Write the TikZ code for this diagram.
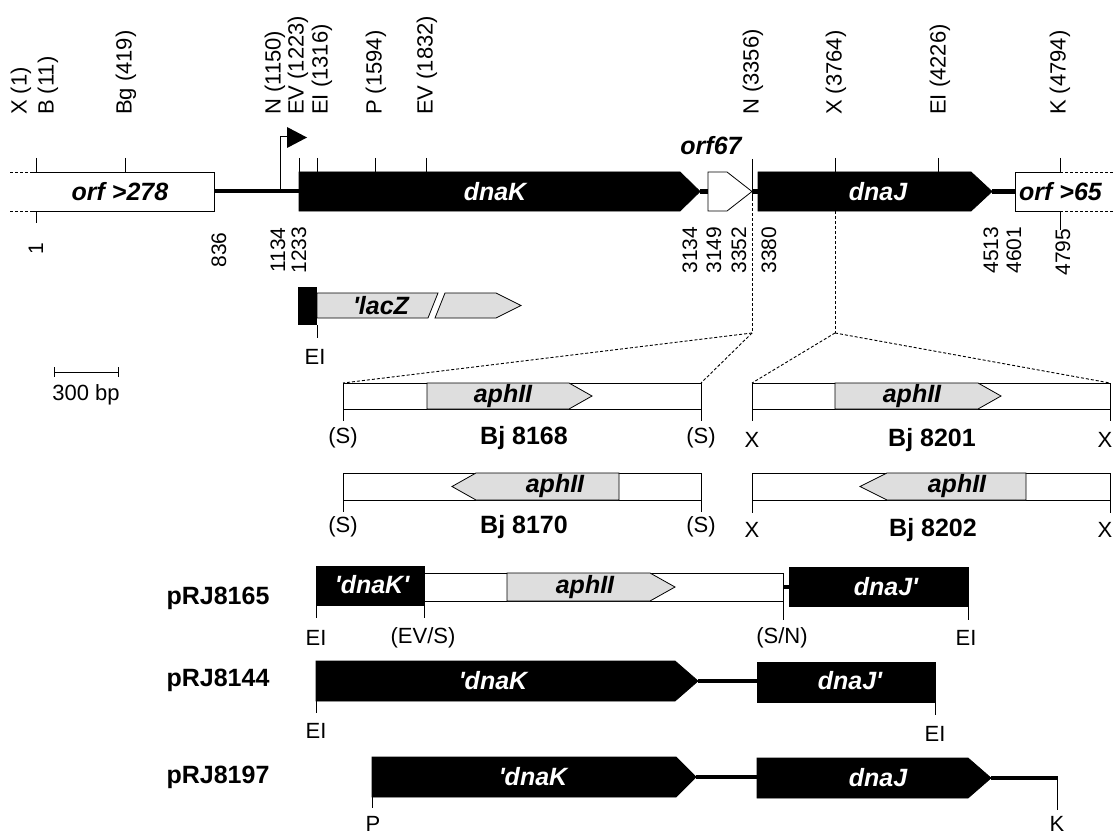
\documentclass[tikz,border=0pt]{standalone}
\usepackage{fontspec}
\setmainfont{Liberation Sans}
\newcommand\fLt{\fontsize{22}{24}\selectfont}
\newcommand\fNum{\fontsize{21}{24}\selectfont}
\newcommand\fBI{\fontsize{25}{28}\selectfont\bfseries\itshape}
\newcommand\fB{\fontsize{25}{28}\selectfont\bfseries}
\newcommand\qq{\textquotesingle}
\begin{document}
\begin{tikzpicture}[x=1pt,y=-1pt,
  bk/.style={fill=black,draw=black,line width=0.8pt},
  wh/.style={fill=white,draw=black,line width=0.8pt},
  gr/.style={fill=black!13,draw=black,line width=0.8pt},
  lnk/.style={line width=4.5pt},
  tk/.style={line width=1pt},
  dsh/.style={line width=0.9pt,dash pattern=on 3pt off 2pt},
  lt/.style={font=\fLt,inner sep=0pt},
  rlab/.style={lt,rotate=90,anchor=west},
  numl/.style={font=\fNum,inner sep=0pt,rotate=90},
  gi/.style={font=\fBI,inner sep=0pt},
  gw/.style={gi,text=white},
  bl/.style={font=\fB,inner sep=0pt}]
\useasboundingbox[fill=white] (0,0) rectangle (1115,837);

% ---------- main map ----------
% orf >278
\draw[line width=0.8pt] (33,172) -- (214,172) -- (214,211) -- (33,211);
\draw[dsh] (10,172) -- (33,172);
\draw[dsh] (10,211) -- (33,211);
\node[gi] (orfA) at (120,192) {orf >278};
\draw[lnk] (214,191) -- (299,191);
% dnaK
\draw[bk] (299,172) -- (680,172) -- (700,191.5) -- (680,211) -- (299,211) -- cycle;
\node[gw] (dnaK) at (495,192) {dnaK};
\draw[lnk] (700,191.5) -- (708,191.5);
% orf67
\draw[wh] (708,172) -- (727,172) -- (752,191.5) -- (727,211) -- (708,211) -- cycle;
\node[gi] (orf67) at (711,146) {orf67};
\draw[lnk] (752,191.5) -- (758,191.5);
% dnaJ
\draw[bk] (758,172) -- (971,172) -- (992,191.5) -- (971,211) -- (758,211) -- cycle;
\node[gw] (dnaJ) at (878,192) {dnaJ};
\draw[lnk] (992,191.5) -- (1015,191.5);
% orf >65
\draw[line width=0.8pt] (1060,172) -- (1015,172) -- (1015,211) -- (1060,211);
\draw[dsh] (1060,172) -- (1118,172);
\draw[dsh] (1060,211) -- (1118,211);
\node[gi,anchor=west] (orfB) at (1019,192) {orf >65};

% promoter
\draw[tk] (280,191) -- (280,137) -- (288,137);
\fill (287,127) -- (307,137.5) -- (287,148) -- cycle;

% ticks above
\foreach \x in {36,125,299,317,375,426,835,938,1060}
  \draw[tk] (\x,158) -- (\x,172);
\draw[tk] (752,159) -- (752,198);
% ticks below
\draw[tk] (36,211) -- (36,223);
\draw[tk] (1060,211) -- (1060,230);

% site labels
\node[rlab] (sX1) at (21,115) {X (1)};
\node[rlab] (sB11) at (48,115) {B (11)};
\node[rlab] (sBg) at (126,115) {Bg (419)};
\node[rlab] (sN1) at (275,115) {N (1150)};
\node[rlab] (sEV1) at (298,115) {EV (1223)};
\node[rlab] (sEI1) at (322,115) {EI (1316)};
\node[rlab] (sP) at (376,115) {P (1594)};
\node[rlab] (sEV2) at (427,115) {EV (1832)};
\node[rlab] (sN2) at (753,115) {N (3356)};
\node[rlab] (sX2) at (836,115) {X (3764)};
\node[rlab] (sEI2) at (940,115) {EI (4226)};
\node[rlab] (sK) at (1060,115) {K (4794)};

% position numbers
\node[numl] (n1) at (36,249) {1};
\node[numl] (n836) at (219,250) {836};
\node[numl] (n1134) at (278,250) {1134};
\node[numl] (n1233) at (299,250) {1233};
\node[numl] (n3134) at (690,250) {3134};
\node[numl] (n3149) at (714,250) {3149};
\node[numl] (n3352) at (739,250) {3352};
\node[numl] (n3380) at (769,250) {3380};
\node[numl] (n4513) at (991,250) {4513};
\node[numl] (n4601) at (1014,250) {4601};
\node[numl] (n4795) at (1063,252) {4795};

% ---------- lacZ fusion ----------
\fill (298,287) rectangle (317,325);
\draw[gr] (317,293) -- (438,293) -- (428,318) -- (317,318) -- cycle;
\draw[gr] (445,293) -- (496,293) -- (521,305.5) -- (496,318) -- (435,318) -- cycle;
\node[gi] (lacZ) at (381,306) {\qq lacZ};
\draw[tk] (317,325) -- (317,338);
\node[lt] (eiL) at (315,357) {EI};

% scale bar
\draw[tk] (54,372) -- (118,372);
\draw[tk] (54,367) -- (54,377);
\draw[tk] (118,367) -- (118,377);
\node[lt] (bar) at (86,395) {300 bp};

% ---------- dashed expansion lines ----------
\coordinate (J1) at (752,333);
\coordinate (J2) at (835,333);
\coordinate (A1) at (343,383);
\coordinate (A2) at (701,383);
\coordinate (B1) at (752,383);
\coordinate (B2) at (1110,383);
\draw[dsh] (752,198) -- (J1);
\draw[dsh] (835,211) -- (J2);
\draw[dsh] (J1) -- (A1);
\draw[dsh] (J1) -- (A2);
\draw[dsh] (J2) -- (B1);
\draw[dsh] (J2) -- (B2);

% ---------- Bj 8168 ----------
\draw[wh] (343,383) rectangle (701,409);
\draw[gr] (427,383) -- (569,383) -- (592,396) -- (569,409) -- (427,409) -- cycle;
\node[gi] (ap1) at (503,396) {aphII};
\draw[tk] (343,409) -- (343,421);
\draw[tk] (701,409) -- (701,421);
\node[lt] (s1a) at (343,438) {(S)};
\node[lt] (s1b) at (701,438) {(S)};
\node[bl] (bj8168) at (524,438) {Bj 8168};

% ---------- Bj 8170 ----------
\draw[wh] (343,473) rectangle (701,500);
\draw[gr] (619,473) -- (476,473) -- (452,486.5) -- (476,500) -- (619,500) -- cycle;
\node[gi] (ap2) at (555,486) {aphII};
\draw[tk] (343,500) -- (343,512);
\draw[tk] (701,500) -- (701,512);
\node[lt] (s2a) at (343,527) {(S)};
\node[lt] (s2b) at (701,527) {(S)};
\node[bl] (bj8170) at (524,527) {Bj 8170};

% ---------- Bj 8201 ----------
\draw[wh] (752,383) rectangle (1110,409);
\draw[gr] (835,383) -- (978,383) -- (1001,396) -- (978,409) -- (835,409) -- cycle;
\node[gi] (ap3) at (912,396) {aphII};
\draw[tk] (752,409) -- (752,421);
\draw[tk] (1110,409) -- (1110,421);
\node[lt] (x3a) at (752,440) {X};
\node[lt] (x3b) at (1105,440) {X};
\node[bl] (bj8201) at (932,440) {Bj 8201};

% ---------- Bj 8202 ----------
\draw[wh] (752,473) rectangle (1110,500);
\draw[gr] (1026,473) -- (887,473) -- (860,486.5) -- (887,500) -- (1026,500) -- cycle;
\node[gi] (ap4) at (957,486) {aphII};
\draw[tk] (752,500) -- (752,513);
\draw[tk] (1110,500) -- (1110,513);
\node[lt] (x4a) at (752,530) {X};
\node[lt] (x4b) at (1105,530) {X};
\node[bl] (bj8202) at (933,530) {Bj 8202};

% ---------- pRJ8165 ----------
\node[bl] (p8165) at (218,598) {pRJ8165};
\draw[bk] (316,566) rectangle (424,605);
\node[gw] (dk1) at (372,585) {\qq dnaK\qq};
\draw[wh] (424,573) rectangle (783,601);
\draw[gr] (507,573) -- (650,573) -- (675,587) -- (650,601) -- (507,601) -- cycle;
\node[gi] (ap5) at (585,587) {aphII};
\draw[lnk] (783,587) -- (789,587);
\draw[bk] (789,567) rectangle (968,606);
\node[gw] (dj1) at (886,587) {dnaJ\qq};
\draw[tk] (316,605) -- (316,618);
\draw[tk] (424,605) -- (424,618);
\draw[tk] (783,601) -- (783,620);
\draw[tk] (968,606) -- (968,620);
\node[lt] (e5a) at (316,638) {EI};
\node[lt] (e5b) at (423,638) {(EV/S)};
\node[lt] (e5c) at (782,638) {(S/N)};
\node[lt] (e5d) at (966,638) {EI};

% ---------- pRJ8144 ----------
\node[bl] (p8144) at (218,680) {pRJ8144};
\draw[bk] (316,661) -- (675,661) -- (698,681) -- (675,701) -- (316,701) -- cycle;
\node[gw] (dk2) at (493,681) {\qq dnaK};
\draw[lnk] (698,681) -- (757,681);
\draw[bk] (757,662) rectangle (935,702);
\node[gw] (dj2) at (850,681) {dnaJ\qq};
\draw[tk] (316,701) -- (316,713);
\draw[tk] (935,702) -- (935,715);
\node[lt] (e6a) at (316,731) {EI};
\node[lt] (e6b) at (935,734) {EI};

% ---------- pRJ8197 ----------
\node[bl] (p8197) at (218,777) {pRJ8197};
\draw[bk] (372,757) -- (676,757) -- (696,777) -- (676,797) -- (372,797) -- cycle;
\node[gw] (dk3) at (533,777) {\qq dnaK};
\draw[lnk] (696,777) -- (757,777);
\draw[bk] (757,758) -- (968,758) -- (991,778) -- (968,798) -- (757,798) -- cycle;
\node[gw] (dj3) at (878,778) {dnaJ};
\draw[lnk] (991,778) -- (1057,778);
\draw[tk] (1057,776) -- (1057,810);
\draw[tk] (372,797) -- (372,808);
\node[lt] (pP) at (373,824) {P};
\node[lt] (pK) at (1057,824) {K};
\end{tikzpicture}
\end{document}
